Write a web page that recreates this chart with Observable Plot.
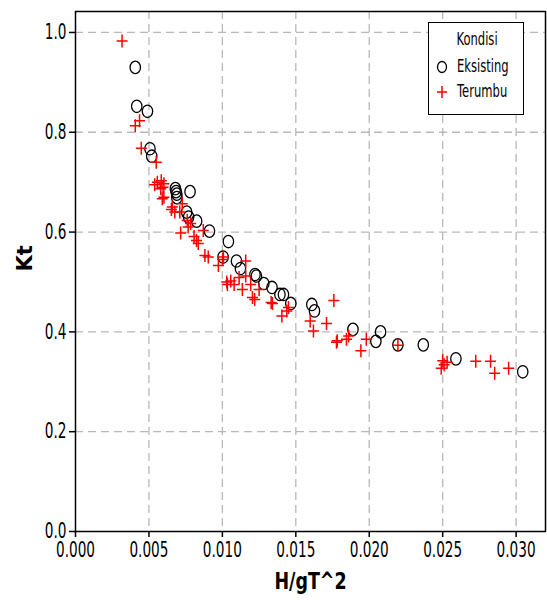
<!DOCTYPE html>
<html>
<head>
<meta charset="utf-8">
<script src="https://cdn.jsdelivr.net/npm/d3@7"></script>
<script src="https://cdn.jsdelivr.net/npm/@observablehq/plot@0.6"></script>
<style>
  body { margin: 0; background: #fff; }
  #wrap { position: relative; width: 547px; height: 600px; font-family: "DejaVu Sans", sans-serif; }
  #legend { position: absolute; left: 428px; top: 22px; width: 96px; height: 93px; border: 1.5px solid #000; background: #fff; box-sizing: border-box; font-size: 17px; color: #000; }
  #legend .t { position: absolute; top: 6px; left: 48px; transform: translateX(-50%) scaleX(0.68); white-space: nowrap; }
  #legend .lab { position: absolute; left: 28px; transform: scaleX(0.68); transform-origin: 0 50%; white-space: nowrap; }
  #legend svg { position: absolute; left: 6px; }
</style>
</head>
<body>
<div id="wrap"></div>
<script>
// ---- data ----
const seriesNames = ["Eksisting", "Terumbu"];
const legendTitle = "Kondisi";
const xLabel = "H/gT^2";
const yLabel = "Kt";
const xTicks = [0, 0.005, 0.010, 0.015, 0.020, 0.025, 0.030];
const yTicks = [0, 0.2, 0.4, 0.6, 0.8, 1.0];

// Eksisting: [H/gT^2, Kt]
const eksisting = [
  [0.00407, 0.930], [0.00417, 0.852], [0.00490, 0.842], [0.00507, 0.767], [0.00519, 0.752],
  [0.00680, 0.687], [0.00685, 0.681], [0.00690, 0.676], [0.00690, 0.669], [0.00780, 0.681],
  [0.00757, 0.640], [0.00770, 0.630], [0.00825, 0.622], [0.00912, 0.602], [0.01041, 0.581],
  [0.01005, 0.550], [0.01096, 0.542], [0.01123, 0.527], [0.01222, 0.515], [0.01232, 0.512],
  [0.01282, 0.497], [0.01338, 0.489], [0.01392, 0.475], [0.01416, 0.475], [0.01466, 0.457],
  [0.01609, 0.455], [0.01627, 0.442], [0.01889, 0.405], [0.02077, 0.400], [0.02045, 0.381],
  [0.02195, 0.374], [0.02368, 0.374], [0.02590, 0.346], [0.03045, 0.320]
];
// Terumbu: [H/gT^2, Kt]
const terumbu = [
  [0.00317, 0.983], [0.00407, 0.813], [0.00436, 0.823], [0.00448, 0.768], [0.00550, 0.740],
  [0.00539, 0.695], [0.00557, 0.700], [0.00584, 0.703], [0.00602, 0.697], [0.00580, 0.687],
  [0.00596, 0.690], [0.00602, 0.670], [0.00591, 0.667], [0.00653, 0.645], [0.00676, 0.640],
  [0.00659, 0.650], [0.00727, 0.657], [0.00710, 0.640], [0.00716, 0.598], [0.00761, 0.623],
  [0.00784, 0.617], [0.00767, 0.610], [0.00807, 0.591], [0.00824, 0.583], [0.00836, 0.577],
  [0.00870, 0.603], [0.00881, 0.553], [0.00904, 0.550], [0.00973, 0.533], [0.01002, 0.545],
  [0.01007, 0.550], [0.01030, 0.500], [0.01057, 0.502], [0.01034, 0.495], [0.01080, 0.495],
  [0.01114, 0.509], [0.01159, 0.512], [0.01159, 0.542], [0.01136, 0.485], [0.01193, 0.495],
  [0.01250, 0.485], [0.01205, 0.469], [0.01220, 0.465], [0.01341, 0.457], [0.01332, 0.459],
  [0.01405, 0.432], [0.01439, 0.442], [0.01450, 0.449], [0.01598, 0.422], [0.01620, 0.402],
  [0.01709, 0.417], [0.01759, 0.463], [0.01777, 0.379], [0.01782, 0.382], [0.01845, 0.385],
  [0.01860, 0.392], [0.01943, 0.362], [0.01980, 0.385], [0.02195, 0.373], [0.02500, 0.342],
  [0.02530, 0.339], [0.02490, 0.327], [0.02510, 0.334], [0.02725, 0.341], [0.02826, 0.341],
  [0.02854, 0.317], [0.02949, 0.327]
];

// ---- symbols ----
const ellipseSym = {
  draw(ctx) {
    const rx = 5.2, ry = 6.2, k = 0.5523;
    ctx.moveTo(rx, 0);
    ctx.bezierCurveTo(rx, ry * k, rx * k, ry, 0, ry);
    ctx.bezierCurveTo(-rx * k, ry, -rx, ry * k, -rx, 0);
    ctx.bezierCurveTo(-rx, -ry * k, -rx * k, -ry, 0, -ry);
    ctx.bezierCurveTo(rx * k, -ry, rx, -ry * k, rx, 0);
    ctx.closePath();
  }
};
const plusSym = {
  draw(ctx) {
    ctx.moveTo(-5.5, 0); ctx.lineTo(5.5, 0);
    ctx.moveTo(0, -6.5); ctx.lineTo(0, 6.5);
  }
};

const font = '"DejaVu Sans", sans-serif';
const gridStyle = {stroke: "#b8b8b8", strokeOpacity: 1, strokeWidth: 1.3, strokeDasharray: "8,5"};

const chart = Plot.plot({
  width: 547,
  height: 600,
  marginLeft: 75,
  marginTop: 11,
  marginRight: 2,
  marginBottom: 69,
  style: {fontFamily: font, fontSize: "21px", color: "#000", background: "#fff", overflow: "visible"},
  x: {domain: [0, 0.032]},
  y: {domain: [0, 1.042]},
  marks: [
    Plot.gridX(xTicks.filter(d => d > 0), gridStyle),
    Plot.gridY(yTicks.filter(d => d > 0), gridStyle),
    Plot.frame({stroke: "#000", strokeWidth: 1.5}),
    Plot.axisX(xTicks, {tickSize: 6, tickPadding: 5, tickFormat: d3.format(".3f"), label: null, strokeWidth: 1.5, fontSize: 21}),
    Plot.axisY(yTicks, {tickSize: 6, tickPadding: 3, tickFormat: d3.format(".1f"), label: null, strokeWidth: 1.5, fontSize: 21}),
    Plot.dot(eksisting, {x: d => d[0], y: d => d[1], symbol: ellipseSym, r: 6, fill: "none", stroke: "#000", strokeWidth: 1.3}),
    Plot.dot(terumbu, {x: d => d[0], y: d => d[1], symbol: plusSym, r: 6, fill: "none", stroke: "#ff0000", strokeWidth: 1.5}),
    Plot.text([xLabel], {frameAnchor: "bottom", dy: 57, text: d => d, fontWeight: "bold", fontSize: 23}),
    Plot.text([yLabel], {frameAnchor: "left", dx: -50, rotate: -90, text: d => d, fontWeight: "bold", fontSize: 21})
  ]
});

// condense the Verdana-like text horizontally, like the reference
function condense(sel, sx, sy) {
  sel.each(function() {
    const t = this.getAttribute("transform") || "";
    this.setAttribute("transform", t + ` scale(${sx},${sy})`);
  });
}
const root = d3.select(chart);
condense(root.selectAll('g[aria-label="x-axis tick label"] text, g[aria-label="y-axis tick label"] text'), 0.65, 1);
condense(root.selectAll("text").filter(function() { return this.textContent === xLabel; }), 0.76, 1);

const wrap = document.getElementById("wrap");
wrap.appendChild(chart);

// legend
const lg = document.createElement("div");
lg.id = "legend";
lg.innerHTML = `
  <div class="t">${legendTitle}</div>
  <svg style="top:36px" width="14" height="16"><ellipse cx="7" cy="8" rx="4.5" ry="5.5" fill="none" stroke="#000" stroke-width="1.3"/></svg>
  <div class="lab" style="top:33px">${seriesNames[0]}</div>
  <svg style="top:61px" width="14" height="16"><path d="M2,8H12M7,2V14" stroke="#ff0000" stroke-width="1.5" fill="none"/></svg>
  <div class="lab" style="top:58px">${seriesNames[1]}</div>
`;
wrap.appendChild(lg);
</script>
</body>
</html>
